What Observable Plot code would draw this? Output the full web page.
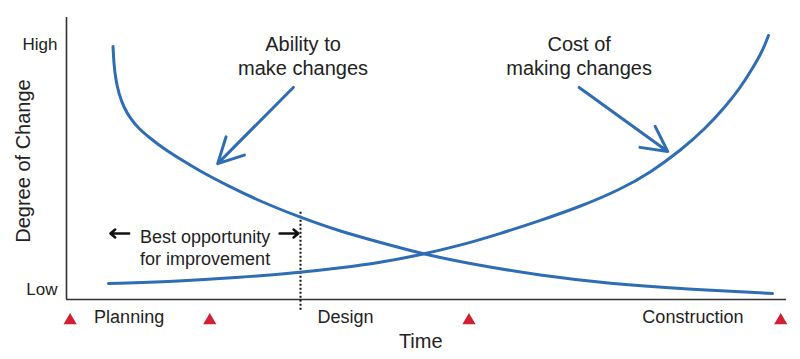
<!DOCTYPE html>
<html>
<head>
<meta charset="utf-8">
<script src="https://cdn.jsdelivr.net/npm/d3@7"></script>
<script src="https://cdn.jsdelivr.net/npm/@observablehq/plot@0.6"></script>
<style>
  html, body { margin: 0; padding: 0; background: #fff; }
  svg { display: block; }
</style>
</head>
<body>
<div id="chart"></div>
<script>
// Ability to make changes (time 0-100, degree 0-100)
const abilityTime   = [6.46, 6.57, 6.81, 7.26, 7.96, 8.89, 10.0, 11.67, 13.47, 15.42, 18.61, 22.36, 26.94, 32.5, 38.06, 43.61, 49.17, 56.53, 65.83, 75.14, 87.08, 98.06];
const abilityDegree = [89.72, 84.04, 78.37, 73.05, 68.09, 64.18, 60.64, 57.09, 53.55, 50.35, 45.39, 40.43, 34.75, 29.08, 24.11, 20.21, 16.31, 12.41, 8.51, 5.67, 3.55, 2.13];

// Cost of making changes
const costTime   = [5.83, 14.86, 24.17, 32.5, 38.06, 43.61, 48.75, 54.72, 60.28, 65.83, 71.39, 76.94, 81.11, 85.28, 88.75, 91.53, 93.61, 95.28, 96.39, 97.08, 97.5];
const costDegree = [5.67, 6.38, 7.8, 9.57, 11.17, 13.12, 15.6, 19.15, 23.4, 28.01, 32.98, 39.01, 45.04, 52.84, 60.64, 68.44, 75.18, 81.91, 86.88, 90.78, 93.62];

// Y tick labels
const yTickValues = [3.5, 90.4];
const yTickLabels = ["Low", "High"];

// Phases along the time axis
const phaseNames   = ["Planning", "Design", "Construction"];
const phaseCenters = [8.7, 38.75, 87.0];
const milestoneTimes = [0.5, 19.9, 55.9, 99.2];

// Boundary of best opportunity
const bestBoundary = 32.5;

const ability = abilityTime.map((t, i) => ({t, d: abilityDegree[i]}));
const cost = costTime.map((t, i) => ({t, d: costDegree[i]}));
const milestones = milestoneTimes.map(t => ({t}));

const blue = "#2e6db4";
const red = "#d21f33";
const ink = "#222";
const font = "'Liberation Sans', Arial, Helvetica, sans-serif";

const chart = Plot.plot({
  width: 800,
  height: 359,
  marginLeft: 66,
  marginRight: 14,
  marginTop: 17,
  marginBottom: 60,
  style: {fontFamily: font, color: ink, background: "#fff", overflow: "visible"},
  x: {domain: [0, 100], axis: null},
  y: {domain: [0, 100], axis: null},
  marks: [
    Plot.axisY({
      ticks: yTickValues,
      tickFormat: (d, i) => yTickLabels[i],
      tickSize: 0, tickPadding: 9, fontSize: 17, label: null
    }),
    Plot.axisX({
      ticks: phaseCenters,
      tickFormat: (d, i) => phaseNames[i],
      tickSize: 0, tickPadding: 11, fontSize: 18, label: null
    }),
    Plot.text(["Degree of Change"], {
      y: 49.1, frameAnchor: "left", textAnchor: "middle", dx: -43.4, rotate: -90,
      fontSize: 20, fill: ink
    }),
    Plot.text(["Time"], {x: 49.2, y: -15.1, fontSize: 20, fill: ink}),
    Plot.ruleX([0], {stroke: "#333", strokeWidth: 1.6}),
    Plot.ruleY([0], {stroke: "#333", strokeWidth: 1.6}),
    Plot.ruleX([bestBoundary], {y1: 30.9, y2: -3.9, stroke: "#111", strokeWidth: 2, strokeDasharray: "2,2"}),
    Plot.line(ability, {x: "t", y: "d", curve: "basis", stroke: blue, strokeWidth: 3}),
    Plot.line(cost, {x: "t", y: "d", curve: "basis", stroke: blue, strokeWidth: 3}),
    Plot.text(["Ability to\nmake changes"], {
      x: 32.85, y: 94.0, lineAnchor: "top", lineHeight: 1.2, fontSize: 20, fill: ink
    }),
    Plot.text(["Cost of\nmaking changes"], {
      x: 71.2, y: 94.0, lineAnchor: "top", lineHeight: 1.2, fontSize: 20, fill: ink
    }),
    Plot.text(["Best opportunity\nfor improvement"], {
      x: 19.25, y: 25.5, lineAnchor: "top", lineHeight: 1.22, fontSize: 18, fill: ink
    }),
    Plot.arrow([{}], {x1: 31.5, y1: 75.2, x2: 21.0, y2: 48.2, stroke: blue, strokeWidth: 3, headLength: 14, headAngle: 55}),
    Plot.arrow([{}], {x1: 71.2, y1: 75.2, x2: 83.5, y2: 52.5, stroke: blue, strokeWidth: 3, headLength: 14, headAngle: 55}),
    Plot.arrow([{}], {x1: 8.7, y1: 23.4, x2: 6.1, y2: 23.4, stroke: "#111", strokeWidth: 2.5, headLength: 7, headAngle: 80}),
    Plot.arrow([{}], {x1: 29.6, y1: 23.4, x2: 32.2, y2: 23.4, stroke: "#111", strokeWidth: 2.5, headLength: 7, headAngle: 80}),
    Plot.dot(milestones, {x: "t", y: -7.45, symbol: "triangle", r: 4.9, fill: red, stroke: null})
  ]
});
document.getElementById("chart").appendChild(chart);
</script>
</body>
</html>
